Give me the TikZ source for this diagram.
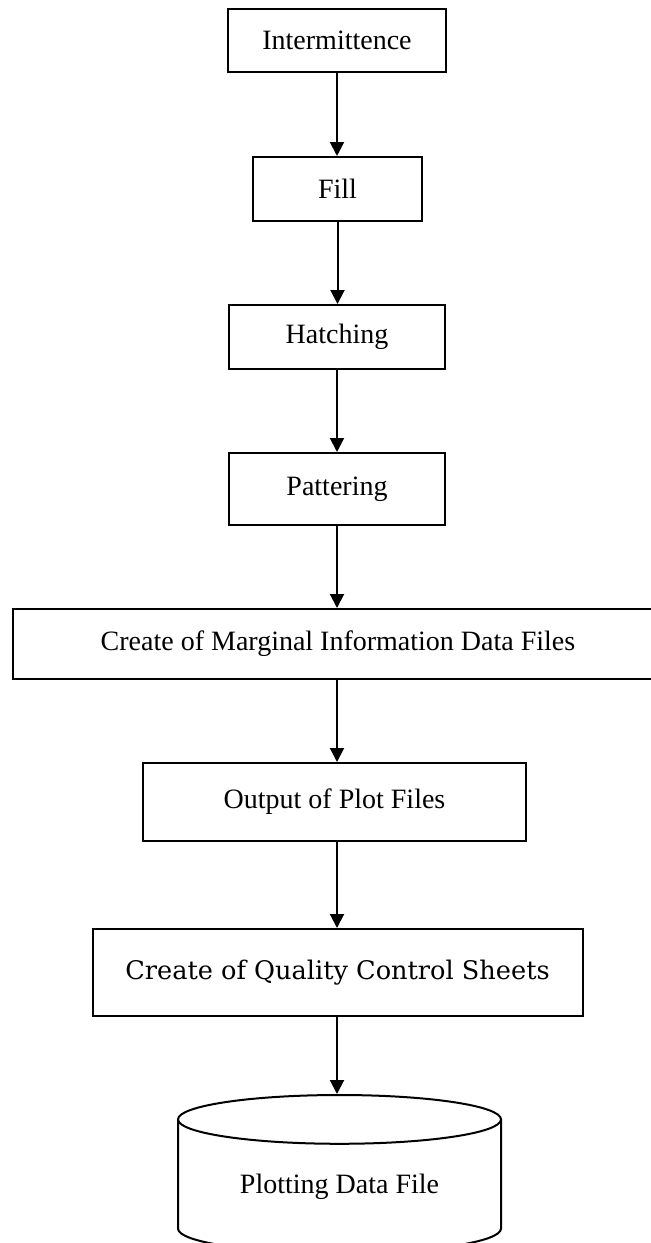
\documentclass[tikz,border=0pt]{standalone}
\usepackage{fontspec}
\setmainfont{Liberation Serif}
\newfontfamily\sheetface{DejaVu Serif}
\usetikzlibrary{arrows.meta,shapes.geometric}
\definecolor{fcInk}{RGB}{0,0,0}
\tikzset{
  flowBox/.style={
    draw=fcInk,
    line width=1pt,
    inner sep=0pt,
    font=\fontsize{14}{16}\selectfont
  },
  flowArrow/.style={
    draw=fcInk,
    line width=1pt,
    -{Triangle[width=7pt,length=7pt]}
  },
  dataStore/.style={
    draw=fcInk,
    line width=1pt,
    cylinder,
    shape border rotate=90,
    aspect=0.245,
    inner sep=0pt,
    font=\fontsize{14}{16}\selectfont
  }
}

\begin{document}
\begin{tikzpicture}[x=0.5pt,y=-0.5pt]
  \useasboundingbox (0,0) rectangle (650,1243);
  \node[flowBox,minimum width=109pt,minimum height=31.5pt] (inter) at (337,40.5) {Intermittence};
  \node[flowBox,minimum width=84.5pt,minimum height=32pt] (fill) at (337.5,189) {Fill};
  \node[flowBox,minimum width=108pt,minimum height=32pt] (hatch) at (337,337) {Hatching};
  \node[flowBox,minimum width=108pt,minimum height=36pt] (patter) at (337,489) {Pattering};
  \node[flowBox,minimum width=325pt,minimum height=35pt] (marg) at (338,644) {Create of Marginal Information Data Files};
  \node[flowBox,minimum width=191.5pt,minimum height=39pt] (plot) at (334.5,802) {Output of Plot Files};
  \node[flowBox,minimum width=245pt,minimum height=43.5pt,font=\sheetface\fontsize{12.8}{15}\selectfont] (sheets) at (337.5,972.5) {Create of Quality Control Sheets};
  \node[dataStore,minimum width=161.5pt,minimum height=79pt,anchor=north] (store) at (339.5,1094) {Plotting Data File};

  \draw[flowArrow] (inter.south) -- (inter.south |- fill.north);
  \draw[flowArrow] (fill.south) -- (fill.south |- hatch.north);
  \draw[flowArrow] (hatch.south) -- (hatch.south |- patter.north);
  \draw[flowArrow] (patter.south) -- (patter.south |- marg.north);
  \draw[flowArrow] (patter.south |- marg.south) -- (patter.south |- plot.north);
  \draw[flowArrow] (patter.south |- plot.south) -- (patter.south |- sheets.north);
  \draw[flowArrow] (patter.south |- sheets.south) -- (patter.south |- store.north);
\end{tikzpicture}
\end{document}
